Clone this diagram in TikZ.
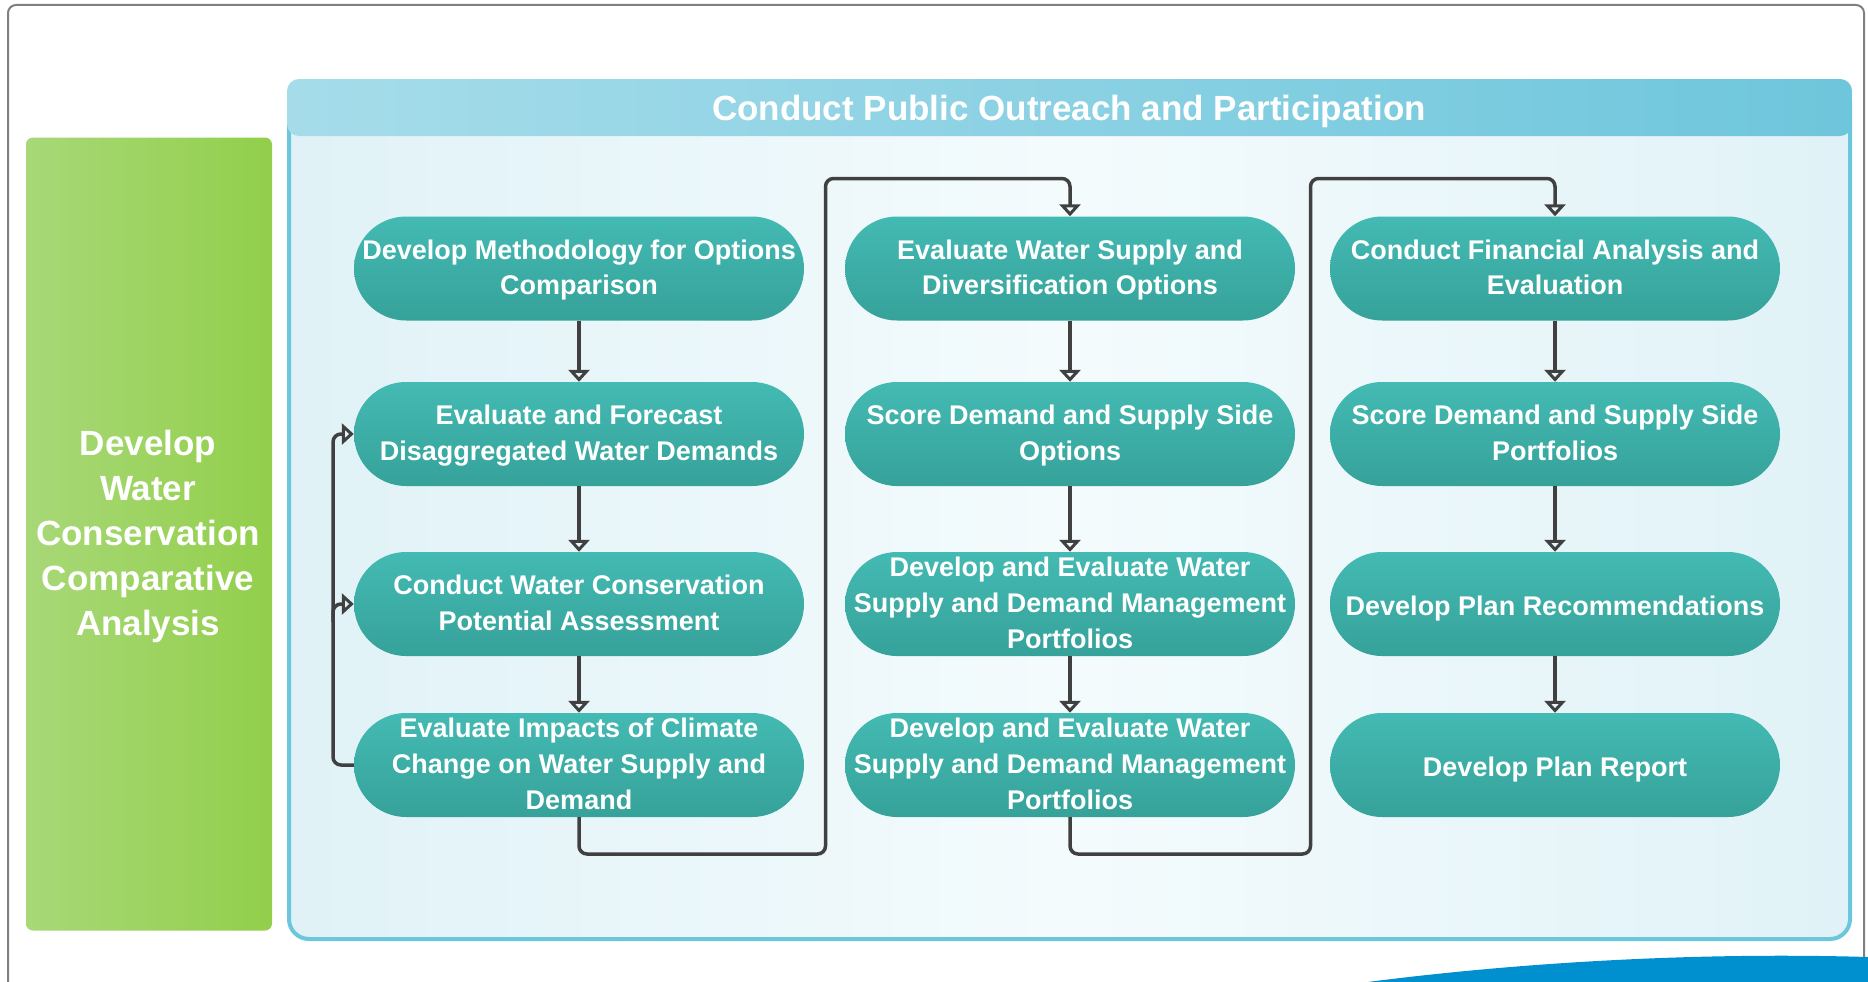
\documentclass[tikz,border=0pt]{standalone}
\usepackage{fontspec}
\setmainfont{Liberation Sans}
\usetikzlibrary{arrows.meta}
\definecolor{frameg}{HTML}{808080}
\definecolor{bord}{HTML}{6CC6DC}
\definecolor{hdl}{HTML}{A6DCEA}
\definecolor{hdr}{HTML}{6EC6DC}
\definecolor{bgl}{HTML}{E0F2F7}
\definecolor{bgm}{HTML}{F4FBFD}
\definecolor{tealt}{HTML}{43BAB3}
\definecolor{tealb}{HTML}{36A29A}
\definecolor{grl}{HTML}{A8D878}
\definecolor{grr}{HTML}{92CF4B}
\definecolor{conn}{HTML}{404040}
\definecolor{swoosh}{HTML}{0090D0}
\tikzset{
  stadium/.style={rectangle, rounded corners=52pt, minimum width=450pt, minimum height=104pt,
    inner sep=0pt, top color=tealt, bottom color=tealb, draw=none},
  stext/.style={text=white, align=center, inner sep=0pt, yshift=-4pt,
    font=\fontsize{27}{35.7}\selectfont\bfseries,
    execute at begin node=\strut, execute at end node=\strut},
  connline/.style={draw=conn, line width=3.5pt, rounded corners=8pt,
    -{Triangle[open,length=12pt,width=21pt,line width=3pt]}},
}
\begin{document}
\begin{tikzpicture}[x=1pt,y=-1pt]
\useasboundingbox (0,0) rectangle (1868,982);
\fill[white] (0,0) rectangle (1868,982);
% outer frame
\draw[frameg, line width=2pt, rounded corners=8pt] (8,5) rectangle (1864,1000);
% swoosh
\fill[swoosh] (1360,983) .. controls (1520,962) and (1700,952) .. (1868,957) -- (1868,983) -- cycle;
% green box
\node[rectangle, rounded corners=7pt, left color=grl, right color=grr, minimum width=246pt,
  minimum height=793pt, inner sep=0pt] (green) at (149,534) {};
\node[text=white, align=center, font=\fontsize{35}{45}\selectfont\bfseries] (greentext) at (148,536)
  {Develop\\Water\\Conservation\\Comparative\\Analysis};
% container
\draw[bord, line width=4pt, rounded corners=20pt, left color=bgl, right color=bgl, middle color=bgm]
  (289,81) rectangle (1850,939);
\node[rectangle, rounded corners=12pt, left color=hdl, right color=hdr, minimum width=1565pt,
  minimum height=57pt, inner sep=0pt] (header) at (1069.5,107.5) {};
\node[text=white, font=\fontsize{35}{40}\selectfont\bfseries] (headertext) at (1069,111)
  {Conduct Public Outreach and Participation};
% nodes
\node[stadium] (a1) at (579,268.5) {};
\node[stadium] (a2) at (579,434) {};
\node[stadium] (a3) at (579,604) {};
\node[stadium] (a4) at (579,765) {};
\node[stadium] (b1) at (1070,268.5) {};
\node[stadium] (b2) at (1070,434) {};
\node[stadium] (b3) at (1070,604) {};
\node[stadium] (b4) at (1070,765) {};
\node[stadium] (c1) at (1555,268.5) {};
\node[stadium] (c2) at (1555,434) {};
\node[stadium] (c3) at (1555,604) {};
\node[stadium] (c4) at (1555,765) {};
\node[stext] (a1t) at (a1.center) {Develop Methodology for Options\\Comparison};
\node[stext] (a2t) at (a2.center) {Evaluate and Forecast\\Disaggregated Water Demands};
\node[stext] (a3t) at (a3.center) {Conduct Water Conservation\\Potential Assessment};
\node[stext] (a4t) at (a4.center) {Evaluate Impacts of Climate\\Change on Water Supply and\\Demand};
\node[stext] (b1t) at (b1.center) {Evaluate Water Supply and\\Diversification Options};
\node[stext] (b2t) at (b2.center) {Score Demand and Supply Side\\Options};
\node[stext] (b3t) at (b3.center) {Develop and Evaluate Water\\Supply and Demand Management\\Portfolios};
\node[stext] (b4t) at (b4.center) {Develop and Evaluate Water\\Supply and Demand Management\\Portfolios};
\node[stext] (c1t) at (c1.center) {Conduct Financial Analysis and\\Evaluation};
\node[stext] (c2t) at (c2.center) {Score Demand and Supply Side\\Portfolios};
\node[stext] (c3t) at (c3.center) {Develop Plan Recommendations};
\node[stext] (c4t) at (c4.center) {Develop Plan Report};
% helper coordinates
\coordinate (fbx) at (333,0);
\coordinate (fb3) at (333,622);
\coordinate (bot1) at (825.5,854);
\coordinate (top1) at (825.5,178.5);
\coordinate (bot2) at (1310.5,854);
\coordinate (top2) at (1310.5,178.5);
% vertical arrows
\foreach \c in {a,b,c}{
  \draw[connline] (\c1.south) -- (\c2.north);
  \draw[connline] (\c2.south) -- (\c3.north);
  \draw[connline] (\c3.south) -- (\c4.north);
}
% column transfers
\draw[connline] (a4.south) |- (bot1) -- (top1) -| (b1.north);
\draw[connline] (b4.south) |- (bot2) -- (top2) -| (c1.north);
% feedback
\draw[connline] (a4.west) -| (fbx |- a2.west) -- (a2.west);
\draw[connline] (fb3) |- (a3.west);
\end{tikzpicture}
\end{document}
